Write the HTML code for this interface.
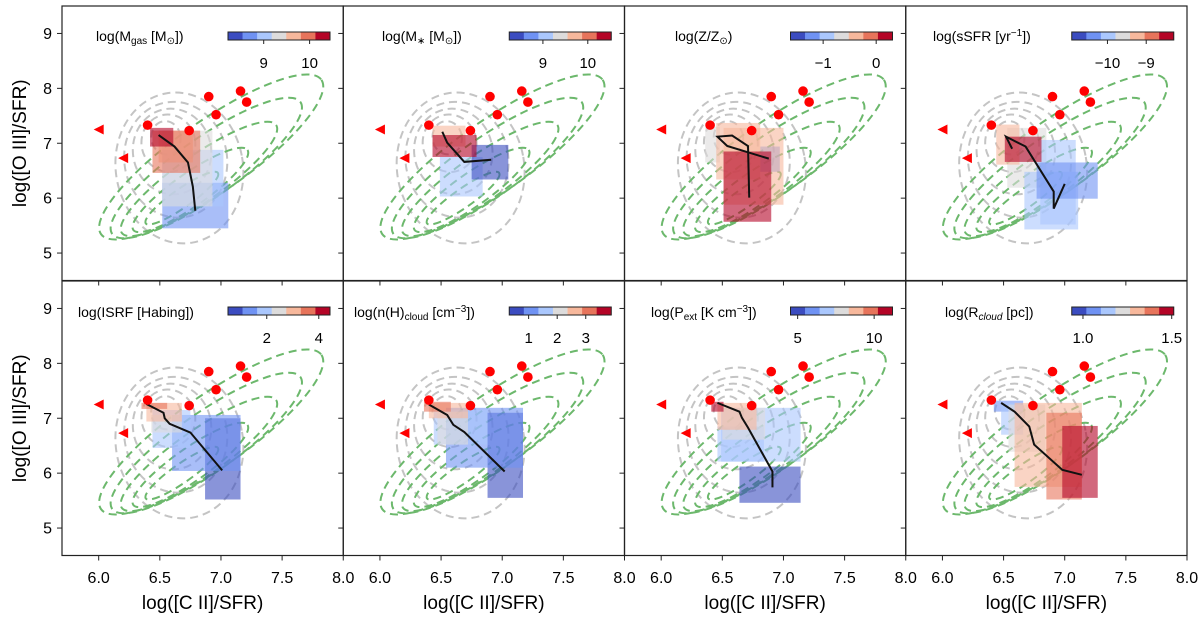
<!DOCTYPE html>
<html><head><meta charset="utf-8"><style>
body{margin:0;background:#fff;}
#wrap{position:relative;width:1200px;height:618px;overflow:hidden;font-family:"Liberation Sans","DejaVu Sans",sans-serif;}
svg{position:absolute;left:0;top:0;}
.t{position:absolute;font-size:14px;color:#000;white-space:nowrap;line-height:1;}
.t sub{font-size:10px;vertical-align:-3px;}
.t sup{font-size:10px;vertical-align:5px;}
</style></head><body>
<div id="wrap">
<svg id="svg" width="1200" height="618"></svg>
<div class="t" style="left:96px;top:29px">log(M<sub>gas</sub> [M<sub>⊙</sub>])</div>
<div class="t" style="left:382px;top:29px">log(M<sub>∗</sub> [M<sub>⊙</sub>])</div>
<div class="t" style="left:675px;top:29px">log(Z/Z<sub>⊙</sub>)</div>
<div class="t" style="left:933px;top:29px">log(sSFR [yr<sup>−1</sup>])</div>
<div class="t" style="left:78px;top:305px">log(ISRF [Habing])</div>
<div class="t" style="left:354px;top:305px">log(n(H)<sub>cloud</sub> [cm<sup>−3</sup>])</div>
<div class="t" style="left:651px;top:305px">log(P<sub>ext</sub> [K cm<sup>−3</sup>])</div>
<div class="t" style="left:945px;top:305px">log(R<sub><i>cloud</i></sub> [pc])</div>
</div>
<script>
const NS="http://www.w3.org/2000/svg";
const svg=document.getElementById('svg');
const PW=281.25, PH=274.5, LEFT=62, TOPS=[6,281];
const XMIN=5.7,XMAX=8.0,YMIN=4.5,YMAX=9.5;
const CMAP=["#3b4cc0","#6f92f3","#aac7fd","#dddcdc","#f7b89c","#e7745b","#b40426"];
// observed points (shared)
const obsX=[6.4,6.74,6.9,6.96,7.16,7.21];
const obsY=[7.33,7.23,7.85,7.52,7.95,7.75];
const limX=[6.0,6.2];
const limY=[7.25,6.73];
// grey contours: cx, cy, rx(data), ry(data)
const greyCX=[6.66,6.63,6.6,6.57,6.55];
const greyCY=[6.55,6.7,6.85,7.0,7.1];
const greyRX=[0.52,0.42,0.32,0.22,0.12];
const greyRY=[1.5,1.15,0.85,0.57,0.33];
// green contours: centre + semi-axes (major in x-units, minor in y-units)
const greenCX=[6.92,6.88,6.82,6.75,6.68];
const greenCY=[6.75,6.55,6.35,6.15,6.0];
const greenA=[1.1,0.94,0.77,0.57,0.36];
const greenB=[0.65,0.54,0.42,0.3,0.17];
// boxes per panel: x0,x1,y0,y1,colour index
const boxes=[
 [[6.52,7.06,5.45,6.28,1],[6.52,7.02,5.85,6.88,2],[6.52,6.93,5.85,7.23,3],[6.49,6.77,6.65,7.23,4],[6.44,6.83,6.46,7.23,5],[6.42,6.61,6.94,7.28,6]],
 [[6.49,6.84,6.03,6.75,2],[6.75,7.05,6.34,6.97,0],[6.43,6.70,6.94,7.32,4],[6.43,6.79,6.75,7.15,6]],
 [[6.36,6.48,6.65,7.3,3],[6.81,6.97,6.48,6.94,1],[6.45,6.81,6.34,7.37,4],[6.51,7.0,5.88,7.28,4],[6.51,6.9,5.57,6.85,6]],
 [[6.53,6.85,6.19,7.28,3],[6.8,7.09,5.52,7.06,2],[6.67,7.11,5.43,6.48,2],[6.77,7.27,5.99,6.65,1],[6.44,6.63,6.61,7.34,4],[6.51,6.81,6.66,7.12,6]],
 [[6.87,7.16,5.52,7.0,0],[6.6,7.16,6.04,7.06,1],[6.44,6.75,6.46,7.15,2],[6.43,6.68,6.74,7.06,3],[6.39,6.68,6.94,7.28,4],[6.35,6.56,7.17,7.28,5]],
 [[6.88,7.17,5.55,7.1,0],[6.54,7.17,6.1,7.19,1],[6.44,6.88,6.52,7.15,2],[6.47,6.72,6.52,7.12,3],[6.4,6.72,7.0,7.28,4],[6.36,6.58,7.12,7.3,5]],
 [[6.64,7.14,5.46,6.12,0],[6.49,7.14,6.21,7.19,2],[6.46,6.84,6.21,6.85,2],[6.5,6.85,6.61,7.19,3],[6.46,6.78,6.79,7.28,4],[6.41,6.51,7.12,7.3,6]],
 [[6.42,6.66,7.12,7.32,1],[6.48,6.66,6.7,7.28,2],[6.54,6.84,6.39,7.25,3],[6.59,7.14,5.75,7.28,4],[6.85,7.14,5.52,7.1,5],[6.98,7.27,5.55,6.86,6]]
];
// median tracks per panel
const lineX=[
 [6.49,6.62,6.73,6.77,6.79],
 [6.51,6.55,6.69,6.91],
 [6.72,6.71,6.58,6.46,6.54,6.88],
 [6.57,6.52,6.68,6.91,6.91,7.0],
 [6.39,6.53,6.54,6.58,6.75,7.01],
 [6.4,6.55,6.6,6.69,7.02],
 [6.46,6.64,6.66,6.71,6.91,6.91],
 [6.48,6.59,6.71,6.75,6.98,7.14]
];
const lineY=[
 [7.15,6.94,6.65,6.21,5.77],
 [7.21,7.01,6.66,6.70],
 [6.01,6.95,7.14,7.12,6.95,6.72],
 [6.9,7.12,6.94,6.12,5.81,6.26],
 [7.26,7.1,7.0,6.9,6.74,6.05],
 [7.25,7.06,6.88,6.75,6.03],
 [7.28,7.12,7.01,6.83,6.03,5.74],
 [7.28,7.12,6.85,6.52,6.06,5.97]
];
// colourbar tick labels and positions (fraction of bar width)
const cbLabels=[["9","10"],["9","10"],["−1","0"],["−10","−9"],["2","4"],["1","2","3"],["5","10"],["1.0","1.5"]];
const cbFrac=[[0.35,0.80],[0.33,0.77],[0.32,0.84],[0.35,0.73],[0.38,0.89],[0.19,0.47,0.75],[0.07,0.82],[0.11,0.98]];
const xTicks=[6.0,6.5,7.0,7.5,8.0];
const xTickLabels=["6.0","6.5","7.0","7.5","8.0"];
const yTicks=[5,6,7,8,9];

function el(tag,attrs,parent){const e=document.createElementNS(NS,tag);for(const k in attrs)e.setAttribute(k,attrs[k]);(parent||svg).appendChild(e);return e;}
function sx(c,x){return LEFT+c*PW+(x-XMIN)/(XMAX-XMIN)*PW;}
function sy(r,y){return TOPS[r]+(YMAX-y)/(YMAX-YMIN)*PH;}
const kx=PW/(XMAX-XMIN), ky=PH/(YMAX-YMIN);

const defs=el('defs',{});
for(let p=0;p<8;p++){
  const r=Math.floor(p/4), c=p%4;
  const cp=el('clipPath',{id:'clip'+p},defs);
  el('rect',{x:LEFT+c*PW,y:TOPS[r],width:PW,height:PH},cp);
  const g=el('g',{'clip-path':'url(#clip'+p+')'});
  
  
  for(let i=0;i<greyCX.length;i++){
    const cx=sx(c,greyCX[i]), cy=sy(r,greyCY[i]);
    const e=el('ellipse',{cx:cx,cy:cy,rx:greyRX[i]*kx,ry:greyRY[i]*ky*0.92,fill:'none',stroke:'#c4c4c4','stroke-width':2,'stroke-dasharray':'8,5',transform:`rotate(-10 ${cx} ${cy})`},g);
    
    
  }
  for(let i=0;i<greenCX.length;i++){
    const cx=sx(c,greenCX[i]), cy=sy(r,greenCY[i]);
    const e=el('ellipse',{cx:cx,cy:cy,rx:greenA[i]*kx,ry:greenB[i]*ky,fill:'none',stroke:'#6cb86c','stroke-width':2,'stroke-dasharray':'8,5',transform:`rotate(-35 ${cx} ${cy})`},g);
    
    
  }
  boxes[p].forEach(b=>{
    const rc=el('rect',{x:sx(c,b[0]),y:sy(r,b[3]),width:(b[1]-b[0])*kx,height:(b[3]-b[2])*ky,fill:CMAP[b[4]],'fill-opacity':0.6},g);
    
    
  });
  const pts=lineX[p].map((x,i)=>sx(c,x)+','+sy(r,lineY[p][i])).join(' ');
  const pl=el('polyline',{points:pts,fill:'none',stroke:'#111','stroke-width':2},g);
  
  
  obsX.forEach((x,i)=>{
    const d=el('circle',{cx:sx(c,x),cy:sy(r,obsY[i]),r:4.8,fill:'#ff0000'},g);
    
    
  });
  limX.forEach((x,i)=>{
    const X=sx(c,x),Y=sy(r,limY[i]);
    const t=el('polygon',{points:`${X-5},${Y} ${X+5},${Y-5} ${X+5},${Y+5}`,fill:'#ff0000'},g);
    
    
  });
  const fr=el('rect',{x:LEFT+c*PW,y:TOPS[r],width:PW,height:PH,fill:'none',stroke:'#222','stroke-width':1.2});
  
  
  yTicks.forEach(v=>{el('line',{x1:LEFT+c*PW-5,x2:LEFT+c*PW,y1:sy(r,v),y2:sy(r,v),stroke:'#222','stroke-width':1});});
  xTicks.forEach(v=>{el('line',{x1:sx(c,v),x2:sx(c,v),y1:TOPS[r]+PH,y2:TOPS[r]+PH+5,stroke:'#222','stroke-width':1});});
  const cbx=LEFT+c*PW+166, cby=TOPS[r]+26, cbw=102, cbh=8;
  CMAP.forEach((col,i)=>{el('rect',{x:cbx+i*cbw/7,y:cby,width:cbw/7+0.3,height:cbh,fill:col});});
  const cbf=el('rect',{x:cbx,y:cby,width:cbw,height:cbh,fill:'none',stroke:'#222','stroke-width':1});
  
  
  cbLabels[p].forEach((lab,i)=>{
    const X=cbx+cbFrac[p][i]*cbw;
    el('line',{x1:X,x2:X,y1:cby+cbh,y2:cby+cbh+4,stroke:'#222','stroke-width':1});
    const t=el('text',{x:X,y:cby+36,'text-anchor':'middle','font-size':15,'font-family':'Liberation Sans, DejaVu Sans, sans-serif'});
    t.textContent=lab;
    
    
  });
  if(c===0){
    yTicks.forEach(v=>{
      const t=el('text',{x:52,y:sy(r,v)+5.5,'text-anchor':'end','font-size':16,'font-family':'Liberation Sans, DejaVu Sans, sans-serif'});
      t.textContent=String(v);
      
      
    });
    const yl=el('text',{x:0,y:0,'text-anchor':'middle','font-size':19,'font-family':'Liberation Sans, DejaVu Sans, sans-serif',transform:`translate(26 ${TOPS[r]+PH/2}) rotate(-90)`});
    yl.textContent='log([O III]/SFR)';
    
    
  }
  if(r===1){
    xTicks.forEach((v,i)=>{
      const t=el('text',{x:sx(c,v),y:583,'text-anchor':'middle','font-size':16,'font-family':'Liberation Sans, DejaVu Sans, sans-serif'});
      t.textContent=xTickLabels[i];
      
      
    });
    const xl=el('text',{x:LEFT+c*PW+PW/2,y:609,'text-anchor':'middle','font-size':19,'font-family':'Liberation Sans, DejaVu Sans, sans-serif'});
    xl.textContent='log([C II]/SFR)';
    
    
  }
}
</script>
</body></html>
